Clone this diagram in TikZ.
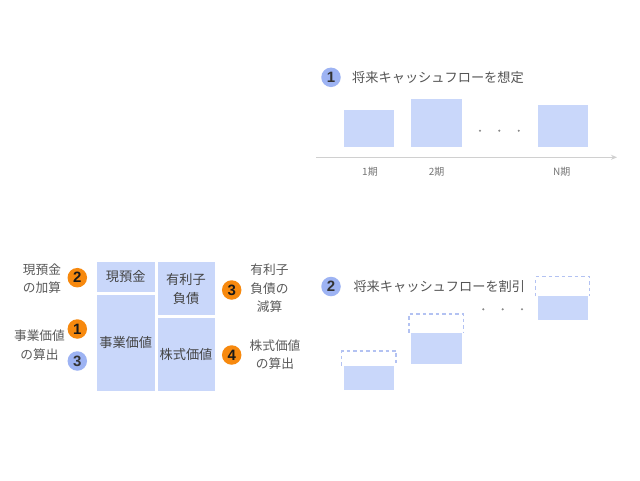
\documentclass[tikz,border=0pt]{standalone}
\usepackage{fontspec}
\setmainfont{Noto Sans CJK JP}
\newfontfamily\numfont{Liberation Sans}
\usetikzlibrary{arrows.meta}
\definecolor{barblue}{HTML}{C9D7FA}
\definecolor{dashblue}{HTML}{B3C2F2}
\definecolor{numorange}{HTML}{F7890E}
\definecolor{numblue}{HTML}{9DB3F3}
\definecolor{titlegray}{HTML}{555555}
\definecolor{labelgray}{HTML}{5A5A5A}
\definecolor{boxtextgray}{HTML}{444444}
\definecolor{periodgray}{HTML}{777777}
\definecolor{axisgray}{HTML}{D0D0D0}
\definecolor{dotgray}{HTML}{888888}
\begin{document}
\begin{tikzpicture}[x=1pt,y=-1pt,
  barbox/.style={fill=barblue, draw=none, inner sep=0, anchor=north west},
  dashframe/.style={draw=none, inner sep=0, anchor=north west},
  dashline/.style={draw=dashblue, line width=1.3pt, dash pattern=on 3.5pt off 3pt},
  num/.style={circle, minimum size=19.5pt, inner sep=0, font=\numfont\bfseries\fontsize{15}{15}\selectfont},
  onum/.style={num, fill=numorange, text=black!90},
  bnum/.style={num, fill=numblue, text=black!80},
  lbl/.style={inner sep=0, align=center, text=labelgray, font=\fontsize{12.7}{18.5}\selectfont},
  boxtext/.style={barbox, align=center, text=boxtextgray, font=\fontsize{13.2}{19}\selectfont},
  titletext/.style={anchor=west, inner sep=0, text=titlegray, font=\fontsize{13.2}{16}\selectfont},
  period/.style={inner sep=0, text=periodgray, font=\fontsize{10}{11}\selectfont},
  axisline/.style={draw=axisgray, line width=1.6pt, -{Stealth[length=6pt,width=5pt]}},
  dotmark/.style={circle, fill=dotgray, inner sep=0, minimum size=2.3pt}
]
\useasboundingbox[fill=white] (0,0) rectangle (640,480);

% ---------- Section 1: future cash flows ----------
\node[bnum] (c1) at (331,77.3) {1};
\node[titletext] (t1) at (352,77.3) {将来キャッシュフローを想定};

\node[barbox, minimum width=50pt, minimum height=37pt] (b1) at (344,110) {};
\node[barbox, minimum width=50.5pt, minimum height=48pt] (b2) at (411,99) {};
\node[barbox, minimum width=50.5pt, minimum height=42pt] (b3) at (537.5,105) {};

\node[dotmark] (d1) at (480,130.7) {};
\node[dotmark] (d2) at (499.3,130.7) {};
\node[dotmark] (d3) at (518.7,130.7) {};

\coordinate (axs) at (316,157.3);
\coordinate (axe) at (617,157.3);
\draw[axisline] (axs) -- (axe);

\node[period] (p1) at (370,171.7) {1期};
\node[period] (p2) at (436.7,171.7) {2期};
\node[period] (pn) at (561.7,171.7) {N期};

% ---------- Section 2: discounted cash flows ----------
\node[bnum] (c2) at (331,286.5) {2};
\node[titletext] (t2) at (353.3,286.5) {将来キャッシュフローを割引};

\node[dashframe, minimum width=54pt, minimum height=39pt] (dA) at (341.7,351) {};
\node[dashframe, minimum width=54.3pt, minimum height=50pt] (dB) at (409,314) {};
\node[dashframe, minimum width=53.6pt, minimum height=44pt] (dC) at (535.7,276.7) {};

\node[barbox, minimum width=50.7pt, minimum height=24.3pt] (fA) at (343.3,365.7) {};
\node[barbox, minimum width=51pt, minimum height=31.3pt] (fB) at (410.7,332.7) {};
\node[barbox, minimum width=50.4pt, minimum height=24pt] (fC) at (537.3,296) {};

\draw[dashline] (fA.north west -| dA.west) -- (dA.north west) -- (dA.north east) -- (fA.north east -| dA.east);
\draw[dashline] (fB.north west -| dB.west) -- (dB.north west) -- (dB.north east) -- (fB.north east -| dB.east);
\draw[dashline] (fC.north west -| dC.west) -- (dC.north west) -- (dC.north east) -- (fC.north east -| dC.east);

\node[dotmark] (e1) at (483.3,309.3) {};
\node[dotmark] (e2) at (502.7,309.3) {};
\node[dotmark] (e3) at (522,309.3) {};

% ---------- Section 3: balance-sheet view ----------
\node[boxtext, minimum width=57.6pt, minimum height=30pt] (cash) at (96.7,261.7) {現預金};
\node[boxtext, minimum width=57.6pt, minimum height=96.7pt] (ev) at (96.7,294.3) {事業価値};
\node[boxtext, minimum width=57pt, minimum height=53.3pt] (debt) at (157.3,261.7) {有利子\\負債};
\node[boxtext, minimum width=57pt, minimum height=73.7pt] (eq) at (157.3,317.3) {株式価値};

\node[lbl] (lcash) at (42,278.7) {現預金\\の加算};
\node[onum] (n2) at (77.3,277.7) {2};
\node[lbl] (lev) at (39.5,345) {事業価値\\の算出};
\node[onum] (n1) at (77.3,329) {1};
\node[bnum] (n3b) at (77.3,361) {3};

\node[onum] (n3) at (231.7,290) {3};
\node[lbl] (ldebt) at (269.5,288.3) {有利子\\負債の\\減算};
\node[onum] (n4) at (231.7,355) {4};
\node[lbl] (leq) at (275,354.5) {株式価値\\の算出};
\end{tikzpicture}
\end{document}
